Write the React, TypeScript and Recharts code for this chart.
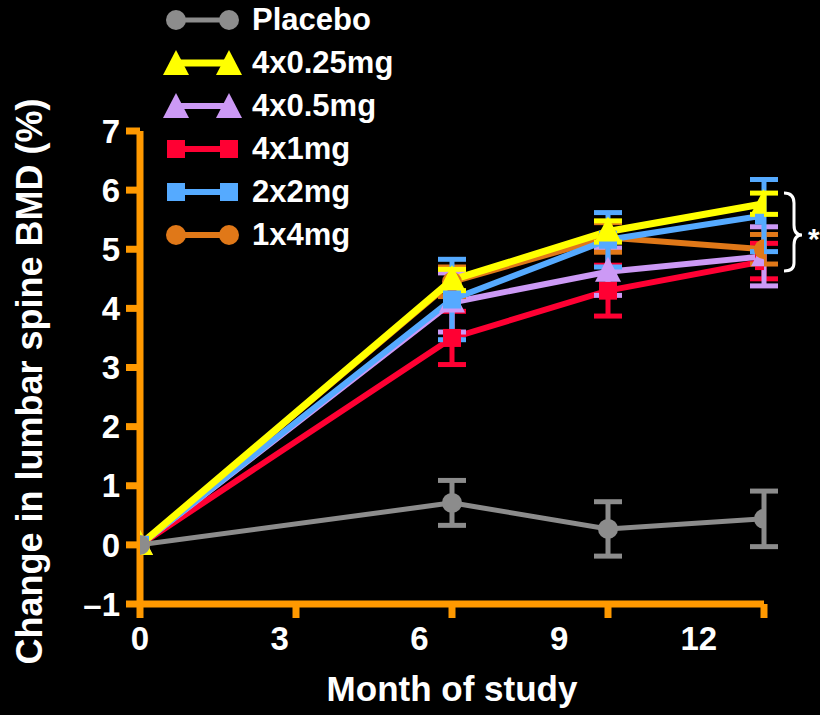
import React from 'react';
import { LineChart, Line, XAxis, YAxis, ErrorBar } from 'recharts';

const months = [0, 6.7, 10.05, 13.4];
const monthLabels = [0, 3, 6, 9, 12];
const axisTicks = [0, 3.35, 6.7, 10.05, 13.4];
const yTicks = [-1, 0, 1, 2, 3, 4, 5, 6, 7];

const placebo = [0, 0.71, 0.27, 0.44];
const placeboErr = [0, 0.38, 0.46, 0.47];
const mg025 = [0, 4.48, 5.3, 5.77];
const mg025Err = [0, 0.18, 0.18, 0.18];
const mg05 = [0, 4.1, 4.62, 4.88];
const mg05Err = [0, 0.5, 0.4, 0.5];
const mg1 = [0, 3.5, 4.3, 4.8];
const mg1Err = [0, 0.45, 0.43, 0.3];
const mg2 = [0, 4.15, 5.16, 5.57];
const mg2Err = [0, 0.68, 0.46, 0.61];
const mg4 = [0, 4.45, 5.2, 5.0];
const mg4Err = [0, 0.25, 0.25, 0.25];

type Shape = 'circle' | 'triangle' | 'square';

interface Series {
  key: string;
  name: string;
  color: string;
  shape: Shape;
  values: number[];
  errors: number[];
  width: number;
}

// draw order: last on top
const series: Series[] = [
  { key: 'mg1', name: '4x1mg', color: '#ff0033', shape: 'square', values: mg1, errors: mg1Err, width: 6 },
  { key: 'mg05', name: '4x0.5mg', color: '#cc99f5', shape: 'triangle', values: mg05, errors: mg05Err, width: 6 },
  { key: 'mg4', name: '1x4mg', color: '#e07818', shape: 'circle', values: mg4, errors: mg4Err, width: 6 },
  { key: 'mg2', name: '2x2mg', color: '#55aaff', shape: 'square', values: mg2, errors: mg2Err, width: 6 },
  { key: 'mg025', name: '4x0.25mg', color: '#ffff00', shape: 'triangle', values: mg025, errors: mg025Err, width: 7 },
  { key: 'placebo', name: 'Placebo', color: '#8c8c8c', shape: 'circle', values: placebo, errors: placeboErr, width: 5 },
];

const legendOrder = ['placebo', 'mg025', 'mg05', 'mg1', 'mg2', 'mg4'];

const data = months.map((m, i) => {
  const row: Record<string, number> = { month: m };
  series.forEach((s) => {
    row[s.key] = s.values[i];
    row[s.key + 'Err'] = s.errors[i];
  });
  return row;
});

const FONT = '"Liberation Sans", Arial, sans-serif';
const ORANGE = '#ff9900';

const marker = (shape: Shape, color: string, cx: number, cy: number, key?: string) => {
  if (shape === 'circle') return <circle key={key} cx={cx} cy={cy} r={10} fill={color} />;
  if (shape === 'square') return <rect key={key} x={cx - 9} y={cy - 9} width={18} height={18} fill={color} />;
  return (
    <polygon
      key={key}
      points={`${cx},${cy - 15} ${cx + 13},${cy + 10} ${cx - 13},${cy + 10}`}
      fill={color}
    />
  );
};

const LegendBox = () => (
  <div style={{ position: 'absolute', left: 160, top: 0, fontFamily: FONT }}>
    {legendOrder.map((k, i) => {
      const s = series.find((x) => x.key === k)!;
      return (
        <div key={k} style={{ position: 'absolute', top: i * 43, left: 0, height: 40, width: 260 }}>
          <svg width={90} height={40} style={{ position: 'absolute', left: 0, top: 0 }}>
            <line x1={16} x2={69} y1={20} y2={20} stroke={s.color} strokeWidth={s.width} />
            {marker(s.shape, s.color, 16, s.shape === 'triangle' ? 22 : 20)}
            {marker(s.shape, s.color, 69, s.shape === 'triangle' ? 22 : 20)}
          </svg>
          <span
            style={{
              position: 'absolute',
              left: 92,
              top: 2,
              color: '#fff',
              fontWeight: 700,
              fontSize: 31,
              lineHeight: '36px',
              whiteSpace: 'nowrap',
            }}
          >
            {s.name}
          </span>
        </div>
      );
    })}
  </div>
);

const YLabel = (props: any) => {
  const { viewBox } = props;
  const cy = viewBox.y + viewBox.height / 2 + 14;
  return (
    <text
      x={42}
      y={cy}
      transform={`rotate(-90, 42, ${cy})`}
      textAnchor="middle"
      fill="#fff"
      fontFamily={FONT}
      fontWeight={700}
      fontSize={36}
    >
      Change in lumbar spine BMD (%)
    </text>
  );
};

const App = () => {
  return (
    <div style={{ position: 'absolute', left: 0, top: 0, width: 820, height: 715, background: '#000', overflow: 'hidden' }}>
      <LineChart width={820} height={715} data={data} margin={{ top: 131, right: 56, left: 0, bottom: 30 }}>
        <XAxis
          xAxisId="axis"
          dataKey="month"
          type="number"
          domain={[0, 13.4]}
          ticks={axisTicks}
          allowDataOverflow
          height={1}
          stroke={ORANGE}
          strokeWidth={7}
          axisLine={{ stroke: ORANGE, strokeWidth: 7 }}
          tickLine={{ stroke: ORANGE, strokeWidth: 7 }}
          tickSize={14}
          tickFormatter={() => ''}
        />
        <XAxis
          xAxisId="labels"
          dataKey="month"
          type="number"
          domain={[0, 13.4]}
          ticks={monthLabels}
          allowDataOverflow
          height={80}
          axisLine={false}
          tickLine={false}
          tickSize={0}
          tickMargin={22}
          tick={{ fill: '#fff', fontSize: 33, fontWeight: 700, fontFamily: FONT }}
          label={{
            value: 'Month of study',
            position: 'insideBottom',
            offset: -16,
            fill: '#fff',
            fontSize: 35,
            fontWeight: 700,
            fontFamily: FONT,
          }}
        />
        <YAxis
          type="number"
          domain={[-1, 7]}
          ticks={yTicks}
          width={140}
          stroke={ORANGE}
          strokeWidth={7}
          axisLine={{ stroke: ORANGE, strokeWidth: 7 }}
          tickLine={{ stroke: ORANGE, strokeWidth: 7 }}
          tickSize={14}
          tickMargin={6}
          tickFormatter={(v: number) => (v < 0 ? '\u2013' + Math.abs(v) : String(v))}
          tick={{ fill: '#fff', stroke: 'none', fontSize: 33, fontWeight: 700, fontFamily: FONT }}
          label={<YLabel />}
        />
        {series.map((s) => (
          <Line
            key={s.key}
            xAxisId="axis"
            dataKey={s.key}
            name={s.name}
            stroke={s.color}
            strokeWidth={s.width}
            isAnimationActive={false}
            dot={(p: any) => marker(s.shape, s.color, p.cx, p.cy, `${s.key}-${p.index}`)}
            activeDot={false}
          >
            <ErrorBar dataKey={s.key + 'Err'} direction="y" width={14} strokeWidth={5} stroke={s.color} />
          </Line>
        ))}
      </LineChart>
      <LegendBox />
      <svg width={60} height={100} style={{ position: 'absolute', left: 780, top: 185 }}>
        <path
          d="M4,8 Q14,8 14,18 L14,40 Q14,50 22,50 Q14,50 14,60 L14,78 Q14,86 4,86"
          fill="none"
          stroke="#fff"
          strokeWidth={3}
        />
      </svg>
      <div
        style={{
          position: 'absolute',
          left: 808,
          top: 222,
          color: '#fff',
          fontFamily: FONT,
          fontWeight: 700,
          fontSize: 30,
        }}
      >
        *
      </div>
    </div>
  );
};

export default App;
